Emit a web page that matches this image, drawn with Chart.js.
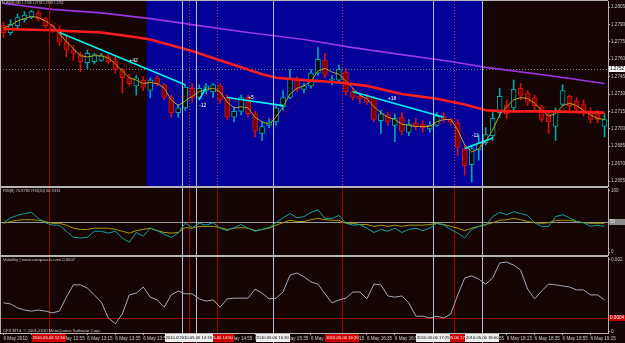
<!DOCTYPE html>
<html>
<head>
<meta charset="utf-8">
<script src="https://cdn.jsdelivr.net/npm/chart.js@4.4.1/dist/chart.umd.min.js"></script>
<style>
html,body{margin:0;padding:0;background:#150505;width:625px;height:343px;overflow:hidden;position:relative}
canvas{position:absolute;left:0;display:block}
.t{position:absolute;left:0;top:0;font-family:'Liberation Sans',Arial,sans-serif;font-size:10px;line-height:10px;color:#c8c8c8;white-space:nowrap;transform-origin:0 0}
</style>
</head>
<body>
<canvas id="cMain" width="625" height="187" style="top:0px"></canvas>
<canvas id="cRsi" width="625" height="69" style="top:187px"></canvas>
<canvas id="cVol" width="625" height="87" style="top:256px"></canvas>
<div class="t" style="transform:translate(2px,1px) scale(0.32)">EURUSD,M5 1.2748 1.2758 1.2748 1.2752</div>
<div class="t" style="transform:translate(3px,189px) scale(0.4)">RSI(8) 70.8782 RSI(20) 60.5331</div>
<div class="t" style="transform:translate(3px,258px) scale(0.42)">Volatility | www.compassfx.com 0.0007</div>
<div class="t" style="transform:translate(3px,329px) scale(0.42)">CFX MT4, © 2001-2010 MetaQuotes Software Corp.</div>
<script>
// ---------- DATA ----------
const times = ['12:15','12:20','12:25','12:30','12:35','12:40','12:45','12:50','12:55',
 '13:00','13:05','13:10','13:15','13:20','13:25','13:30','13:35','13:40','13:45','13:50','13:55',
 '14:00','14:05','14:10','14:15','14:20','14:25','14:30','14:35','14:40','14:45','14:50','14:55',
 '15:00','15:05','15:10','15:15','15:20','15:25','15:30','15:35','15:40','15:45','15:50','15:55',
 '16:00','16:05','16:10','16:15','16:20','16:25','16:30','16:35','16:40','16:45','16:50','16:55',
 '17:00','17:05','17:10','17:15','17:20','17:25','17:30','17:35','17:40','17:45','17:50','17:55',
 '18:00','18:05','18:10','18:15','18:20','18:25','18:30','18:35','18:40','18:45','18:50','18:55',
 '19:00','19:05','19:10','19:15','19:20','19:25'];

const openP = [1.2789,1.2783,1.2789,1.2794,1.2796,1.2800,1.2795,1.2789,1.2785,1.2775,
 1.2768,1.2764,1.2757,1.2758,1.2759,1.2762,1.2758,1.2751,1.2744,1.2737,
 1.2742,1.2733,1.2744,1.2738,1.2727,1.2714,1.2718,1.2735,1.2727,1.2733,
 1.2732,1.2737,1.2727,1.2710,1.2715,1.2727,1.2713,1.2696,1.2703,1.2706,
 1.2719,1.2727,1.2743,1.2734,1.2737,1.2748,1.2759,1.2742,1.2742,1.2749,
 1.2732,1.2728,1.2727,1.2726,1.2707,1.2712,1.2703,1.2710,1.2697,1.2705,
 1.2704,1.2700,1.2703,1.2711,1.2708,1.2705,1.2683,1.2669,1.2682,1.2688,
 1.2694,1.2714,1.2720,1.2718,1.2735,1.2731,1.2727,1.2719,1.2713,1.2702,
 1.2721,1.2728,1.2724,1.2721,1.2714,1.2713,1.2702];
const highP = [1.2792,1.2794,1.2799,1.2801,1.2802,1.2802,1.2796,1.2790,1.2788,1.2780,
 1.2772,1.2766,1.2768,1.2765,1.2765,1.2764,1.2762,1.2752,1.2747,1.2746,
 1.2745,1.2744,1.2746,1.2739,1.2729,1.2721,1.2738,1.2739,1.2738,1.2739,
 1.2739,1.2739,1.2729,1.2719,1.2729,1.2729,1.2715,1.2706,1.2709,1.2720,
 1.2733,1.2751,1.2745,1.2739,1.2751,1.2770,1.2765,1.2746,1.2755,1.2752,
 1.2735,1.2731,1.2730,1.2728,1.2716,1.2714,1.2713,1.2714,1.2708,1.2709,
 1.2707,1.2706,1.2714,1.2714,1.2709,1.2708,1.2686,1.2686,1.2695,1.2701,
 1.2714,1.2735,1.2725,1.2742,1.2739,1.2733,1.2729,1.2720,1.2716,1.2718,
 1.2738,1.2729,1.2727,1.2725,1.2718,1.2716,1.2713];
const lowP = [1.2779,1.2781,1.2787,1.2792,1.2795,1.2793,1.2787,1.2783,1.2772,1.2762,
 1.2759,1.2749,1.2752,1.2756,1.2758,1.2756,1.2748,1.2731,1.2737,1.2729,
 1.2733,1.2727,1.2737,1.2725,1.2710,1.2710,1.2716,1.2723,1.2725,1.2730,
 1.2727,1.2722,1.2708,1.2706,1.2712,1.2710,1.2693,1.2690,1.2701,1.2703,
 1.2716,1.2726,1.2732,1.2731,1.2735,1.2746,1.2744,1.2738,1.2740,1.2729,
 1.2725,1.2722,1.2721,1.2706,1.2696,1.2703,1.2689,1.2695,1.2694,1.2699,
 1.2697,1.2697,1.2702,1.2706,1.2703,1.2677,1.2660,1.2654,1.2673,1.2686,
 1.2690,1.2710,1.2709,1.2716,1.2725,1.2720,1.2716,1.2706,1.2696,1.2690,
 1.2720,1.2716,1.2714,1.2711,1.2705,1.2705,1.2693];
const closeP = [1.2783,1.2790,1.2796,1.2798,1.2801,1.2795,1.2789,1.2785,1.2775,1.2768,
 1.2765,1.2758,1.2765,1.2764,1.2763,1.2758,1.2751,1.2744,1.2739,1.2744,
 1.2736,1.2742,1.2739,1.2727,1.2714,1.2718,1.2736,1.2727,1.2735,1.2737,
 1.2738,1.2725,1.2710,1.2715,1.2727,1.2713,1.2698,1.2702,1.2706,1.2718,
 1.2727,1.2744,1.2734,1.2737,1.2748,1.2760,1.2747,1.2743,1.2751,1.2732,
 1.2727,1.2726,1.2723,1.2708,1.2713,1.2706,1.2709,1.2698,1.2704,1.2702,
 1.2701,1.2703,1.2711,1.2708,1.2706,1.2684,1.2668,1.2683,1.2688,1.2695,
 1.2709,1.2728,1.2713,1.2734,1.2729,1.2723,1.2720,1.2708,1.2706,1.2715,
 1.2733,1.2720,1.2717,1.2714,1.2708,1.2708,1.2708];

const maFast = [1.2787,1.2789,1.2793,1.2795,1.2797,1.2796,1.2793,1.2789,1.2782,1.2775,
 1.2769,1.2763,1.2762,1.2763,1.2763,1.2761,1.2756,1.2750,1.2744,1.2742,
 1.2739,1.2740,1.2739,1.2735,1.2725,1.2720,1.2724,1.2728,1.2732,1.2734,
 1.2735,1.2732,1.2723,1.2718,1.2719,1.2718,1.2710,1.2706,1.2704,1.2710,
 1.2719,1.2730,1.2735,1.2737,1.2741,1.2750,1.2752,1.2749,1.2747,1.2741,
 1.2735,1.2729,1.2726,1.2719,1.2714,1.2710,1.2708,1.2704,1.2703,1.2702,
 1.2702,1.2702,1.2706,1.2708,1.2708,1.2699,1.2686,1.2680,1.2683,1.2689,
 1.2699,1.2712,1.2719,1.2725,1.2727,1.2726,1.2722,1.2716,1.2711,1.2713,
 1.2720,1.2722,1.2720,1.2716,1.2712,1.2709,1.2708];
const maMid = [1.2785,1.2786,1.2788,1.2790,1.2793,1.2794,1.2794,1.2792,1.2789,1.2784,
 1.2779,1.2774,1.2770,1.2766,1.2764,1.2762,1.2759,1.2756,1.2752,1.2748,
 1.2744,1.2741,1.2739,1.2737,1.2733,1.2728,1.2728,1.2727,1.2728,1.2729,
 1.2732,1.2731,1.2727,1.2725,1.2723,1.2721,1.2715,1.2711,1.2708,1.2708,
 1.2712,1.2718,1.2724,1.2729,1.2735,1.2742,1.2746,1.2746,1.2748,1.2745,
 1.2740,1.2735,1.2731,1.2725,1.2720,1.2715,1.2712,1.2708,1.2706,1.2704,
 1.2703,1.2703,1.2704,1.2705,1.2706,1.2702,1.2695,1.2689,1.2686,1.2686,
 1.2691,1.2701,1.2708,1.2714,1.2720,1.2722,1.2723,1.2720,1.2716,1.2714,
 1.2717,1.2719,1.2719,1.2718,1.2715,1.2713,1.2711];

const maSlowT = ['12:15','12:50','13:25','13:50','14:00','14:15','14:30','14:40','15:00','15:20','15:30','15:50','16:15','16:35','17:00','17:25','17:45','18:00','18:15','18:45','19:25'];
const maSlowV = [1.2786,1.2785,1.2783,1.2779,1.2777,1.2772,1.2767,1.2763,1.2755,1.2747,1.2744,1.2742,1.2740,1.2737,1.2730,1.2726,1.2721,1.2716,1.2715,1.2715,1.2714];
const maLongT = ['12:15','12:50','13:25','14:00','14:35','15:10','15:50','16:25','17:00','17:35','18:00','18:45','19:25'];
const maLongV = [1.2808,1.2803,1.2800,1.2795,1.2789,1.2783,1.2777,1.2770,1.2764,1.2758,1.2753,1.2746,1.2739];

const trendT0 = ['12:55','14:35','14:55','16:25','17:45'];
const trendP0 = [1.2783,1.2725,1.2727,1.2732,1.2683];
const trendT1 = ['14:25','14:40','15:35','17:30','18:05'];
const trendP1 = [1.2738,1.2736,1.2720,1.2710,1.2692];
const trendText = ['+42','-12','+5','+18','-11'];
const trendTextT = ['13:45','14:35','15:10','16:50','17:50'];
const trendTextP = [1.2759,1.2720,1.2727,1.2726,1.2694];

const rsi8 = [48,56,60,63,65,55,48,44,44,34, 24,23,24,34,34,31,34,23,16,32,
 26,39,35,29,24,31,47,40,47,44, 48,39,35,40,45,39,34,37,40,48,
 56,63,56,58,65,69,55,55,60,47, 44,45,39,32,37,34,39,32,37,39,
 35,39,47,44,37,31,23,37,42,44, 58,65,61,66,63,60,48,42,42,58,
 61,56,50,48,42,44,42];
const rsi20 = [47,50,52,53,53,52,50,47,47,44, 39,37,37,39,39,39,37,34,31,35,
 37,39,35,32,31,32,40,39,42,42, 42,40,37,39,40,39,35,37,39,44,
 48,52,50,50,53,55,53,52,52,47, 47,45,45,42,44,42,44,42,44,44,
 44,45,47,45,42,39,35,39,42,45, 48,52,53,55,53,50,48,47,48,52,
 52,52,50,48,47,47,47];
const volat = [0.00081,0.00078,0.00067,0.00061,0.00058,0.00061,0.00058,0.00053,0.00058,0.00097,
 0.00131,0.00131,0.00122,0.00103,0.00083,0.00039,0.00023,0.00050,0.00103,0.00108,
 0.00125,0.00097,0.00089,0.00069,0.00103,0.00114,0.00106,0.00106,0.00092,0.00086,
 0.00089,0.00069,0.00092,0.00094,0.00094,0.00094,0.00119,0.00108,0.00092,0.00094,
 0.00111,0.00158,0.00164,0.00153,0.00139,0.00133,0.00106,0.00081,0.00089,0.00094,
 0.00111,0.00111,0.00092,0.00133,0.00131,0.00100,0.00097,0.00100,0.00081,0.00044,
 0.00044,0.00039,0.00044,0.00039,0.00050,0.00103,0.00150,0.00156,0.00147,0.00133,
 0.00150,0.00192,0.00194,0.00186,0.00172,0.00119,0.00092,0.00114,0.00133,0.00131,
 0.00128,0.00125,0.00117,0.00117,0.00103,0.00103,0.00089];

const priceTicks = [1.2655,1.2670,1.2685,1.2700,1.2715,1.2730,1.2745,1.2760,1.2775,1.2790,1.2805];
const lastPrice = 1.2752;
const rsiTicks = [0,100];
const rsiLevel = 50;
const volTicks = [0,0.002];
const volLevel = 0.0004;
const timeTickT = ['12:15','12:35','12:55','13:15','13:35','13:55','14:15','14:35','14:55','15:15','15:35',
 '15:55','16:15','16:35','16:55','17:15','17:35','17:55','18:15','18:35','18:55','19:15'];
const timeTickText = ['6 May 2010','6 May 12:35','6 May 12:55','6 May 13:15','6 May 13:35','6 May 13:55',
 '6 May 14:15','6 May 14:35','6 May 14:55','6 May 15:15','6 May 15:35','6 May 15:55','6 May 16:15',
 '6 May 16:35','6 May 16:55','6 May 17:15','6 May 17:35','6 May 17:55','6 May 18:15','6 May 18:35',
 '6 May 18:55','6 May 19:15'];
const sessionRange = ['14:00','18:00'];
const vRedSolid = ['12:50'];
const vRedDot = ['14:30','14:50','16:20','17:40'];
const vWhite = ['14:25','14:35','15:30','17:25','18:00'];

// ---------- STYLE ----------
const C = {bg:'#150505', blue:'#020299', frame:'#b4b4b4', txt:'#c8c8c8',
 bullLine:'#00a8a8', bullFill:'#080808', bearLine:'#d41010', bearFill:'#780000',
 purple:'#9b35e6', red:'#ff1c1c', yellow:'#b4a424', dotted:'#c80000', cyan:'#00f4f4',
 white:'#b8c0d8', redV:'#a00000', redDot:'#ff2a2a',
 rsi8:'#14a0a0', rsi20:'#a49c00', vol:'#a4a8bc', lvl:'#9a9a9a', volLvl:'#9a0000'};
const FONT = "'Liberation Sans', Arial, sans-serif";
const tickFont = {family: FONT, size: 4.6};

const idx = t => times.indexOf(t);
const xAt = (chart, t, off) => chart.scales.x.getPixelForValue(idx(t) + (off || 0));

function drawV(chart, y0, y1, main) {
  const ctx = chart.ctx;
  ctx.save(); ctx.lineWidth = 1;
  const L = (t, color, dash) => {
    const x = Math.round(xAt(chart, t, -0.5)) + 0.5;
    ctx.strokeStyle = color; ctx.setLineDash(dash);
    ctx.beginPath(); ctx.moveTo(x, y0); ctx.lineTo(x, y1); ctx.stroke();
  };
  vRedSolid.forEach(t => L(t, C.redV, []));
  vRedDot.forEach(t => L(t, main ? C.redDot : C.redV, main ? [1, 2] : []));
  vWhite.forEach(t => L(t, C.white, []));
  ctx.restore();
}
function fillBg(chart) {
  const {ctx, chartArea: a} = chart;
  ctx.save(); ctx.fillStyle = C.bg;
  ctx.fillRect(a.left, a.top, a.right - a.left, a.bottom - a.top);
  ctx.restore();
}
function hLevel(chart, scaleId, v, color, dash) {
  const {ctx, chartArea: a} = chart;
  const y = Math.round(chart.scales[scaleId].getPixelForValue(v)) + 0.5;
  ctx.save(); ctx.strokeStyle = color; ctx.lineWidth = 1; ctx.setLineDash(dash);
  ctx.beginPath(); ctx.moveTo(a.left, y); ctx.lineTo(a.right, y); ctx.stroke(); ctx.restore();
}
function frame(chart, top) {
  const {ctx, chartArea: a} = chart;
  ctx.save(); ctx.strokeStyle = C.frame; ctx.lineWidth = 1;
  ctx.beginPath();
  ctx.moveTo(0.5, a.top); ctx.lineTo(0.5, a.bottom);
  ctx.moveTo(0, a.bottom + 0.5); ctx.lineTo(a.right, a.bottom + 0.5);
  ctx.moveTo(0, a.top - 0.5); ctx.lineTo(a.right, a.top - 0.5);
  ctx.stroke(); ctx.restore();
}
function axisBox(chart, scaleId, v, text, bg, fg) {
  const {ctx, chartArea: a} = chart;
  const y = chart.scales[scaleId].getPixelForValue(v);
  ctx.save(); ctx.fillStyle = bg; ctx.fillRect(a.right + 1, Math.round(y - 3), 16, 6);
  ctx.fillStyle = fg; ctx.font = '4.6px ' + FONT; ctx.textAlign = 'left'; ctx.textBaseline = 'middle';
  ctx.fillText(text, a.right + 2, y + 0.3); ctx.restore();
}
const yAxisBase = (ticksArr, fmt) => ({
  position: 'right',
  afterFit: s => { s.width = 17; s.paddingTop = 0; s.paddingBottom = 0; },
  afterBuildTicks: s => { s.ticks = ticksArr.map(v => ({value: v})); },
  ticks: {color: C.txt, font: tickFont, padding: 1, callback: fmt},
  grid: {drawOnChartArea: false, drawTicks: true, tickLength: 2, color: C.frame},
  border: {color: C.frame}
});
const common = {responsive: false, animation: false, events: [],
  plugins: {legend: {display: false}, tooltip: {enabled: false}}};

// ---------- MAIN PANE ----------
const bull = times.map((t, i) => closeP[i] >= openP[i]);
const bodies = times.map((t, i) => {
  let lo = Math.min(openP[i], closeP[i]), hi = Math.max(openP[i], closeP[i]);
  if (hi - lo < 0.00004) { lo -= 0.00002; hi += 0.00002; }
  return [lo, hi];
});
const lineDs = (data, color, width, dash) => ({type: 'line', data, borderColor: color,
  borderWidth: width, borderDash: dash || [], pointRadius: 0, tension: 0, fill: false});

const trendDs = trendT0.map((t, k) => lineDs([{x: t, y: trendP0[k]}, {x: trendT1[k], y: trendP1[k]}], C.cyan, 1.6));

new Chart(document.getElementById('cMain'), {
  type: 'bar',
  data: {labels: times, datasets: [
    ...trendDs,
    lineDs(maSlowT.map((t, k) => ({x: t, y: maSlowV[k]})), C.red, 2.6),
    lineDs(maLongT.map((t, k) => ({x: t, y: maLongV[k]})), C.purple, 1.6),
    lineDs(maFast, C.yellow, 1),
    lineDs(maMid, C.dotted, 1, [1, 2]),
    {type: 'bar', data: bodies, grouped: false, barThickness: 5, borderWidth: 1, borderSkipped: false,
     backgroundColor: bull.map(b => b ? C.bullFill : C.bearFill),
     borderColor: bull.map(b => b ? C.bullLine : C.bearLine)},
    {type: 'bar', data: times.map((t, i) => [lowP[i], highP[i]]), grouped: false, barThickness: 1,
     backgroundColor: bull.map(b => b ? C.bullLine : C.bearLine)}
  ]},
  options: {...common,
    layout: {padding: {top: 1, bottom: 1, left: 0, right: 0}},
    scales: {
      x: {type: 'category', offset: true, display: false},
      y: {...yAxisBase(priceTicks, v => v.toFixed(4)), min: 1.26507, max: 1.28102}
    }
  },
  plugins: [{
    id: 'mainDeco',
    beforeDraw(chart) {
      fillBg(chart);
      const {ctx, chartArea: a} = chart;
      const x0 = xAt(chart, sessionRange[0], -0.5), x1 = xAt(chart, sessionRange[1], -0.5);
      ctx.save(); ctx.fillStyle = C.blue; ctx.fillRect(x0, a.top, x1 - x0, a.bottom - a.top); ctx.restore();
    },
    beforeDatasetsDraw(chart) { hLevel(chart, 'y', lastPrice, '#7c7c7c', [1, 2]); },
    afterDatasetsDraw(chart) {
      drawV(chart, chart.chartArea.top, chart.chartArea.bottom, true);
      const ctx = chart.ctx;
      ctx.save(); ctx.fillStyle = '#ffffff'; ctx.font = '5px ' + FONT;
      ctx.textAlign = 'left'; ctx.textBaseline = 'middle';
      trendText.forEach((s, k) => ctx.fillText(s, xAt(chart, trendTextT[k]), chart.scales.y.getPixelForValue(trendTextP[k])));
      ctx.restore();
    },
    afterDraw(chart) {
      frame(chart);
      axisBox(chart, 'y', lastPrice, lastPrice.toFixed(4), '#f4f4f4', '#000000');
    }
  }]
});

// ---------- RSI PANE ----------
new Chart(document.getElementById('cRsi'), {
  type: 'line',
  data: {labels: times, datasets: [
    lineDs(rsi8, C.rsi8, 1),
    lineDs(rsi20, C.rsi20, 1)
  ]},
  options: {...common,
    layout: {padding: {top: 1, bottom: 1}},
    scales: {
      x: {type: 'category', offset: true, display: false},
      y: {...yAxisBase(rsiTicks, v => String(v)), min: -4.9, max: 104.9}
    }
  },
  plugins: [{
    id: 'rsiDeco',
    beforeDraw(chart) { fillBg(chart); },
    beforeDatasetsDraw(chart) {
      hLevel(chart, 'y', rsiLevel, C.lvl, []);
      drawV(chart, chart.chartArea.top, chart.chartArea.bottom, false);
    },
    afterDraw(chart) {
      frame(chart);
      axisBox(chart, 'y', rsiLevel, String(rsiLevel), '#8a8a8a', '#e8e8e8');
    }
  }]
});

// ---------- VOLATILITY PANE ----------
new Chart(document.getElementById('cVol'), {
  type: 'line',
  data: {labels: times, datasets: [lineDs(volat, C.vol, 1)]},
  options: {...common,
    layout: {padding: {top: 1, bottom: 0}},
    scales: {
      x: {type: 'category', offset: true, position: 'bottom',
        afterFit: s => { s.height = 10; s.paddingLeft = 0; s.paddingRight = 0; },
        afterBuildTicks: s => { s.ticks = timeTickT.map(t => ({value: idx(t)})); },
        ticks: {color: C.txt, font: tickFont, padding: 1, autoSkip: false, maxRotation: 0, minRotation: 0,
          align: 'start', callback: v => timeTickText[timeTickT.indexOf(times[v])]},
        grid: {drawOnChartArea: false, drawTicks: true, tickLength: 2, color: C.frame},
        border: {color: C.frame}},
      y: {...yAxisBase(volTicks, v => (v === 0 ? '0' : v.toFixed(3))), min: -0.0000278, max: 0.0020833}
    }
  },
  plugins: [{
    id: 'volDeco',
    beforeDraw(chart) { fillBg(chart); },
    beforeDatasetsDraw(chart) {
      hLevel(chart, 'y', volLevel, C.volLvl, []);
      drawV(chart, chart.chartArea.top, chart.height, false);
    },
    afterDraw(chart) {
      frame(chart);
      axisBox(chart, 'y', volLevel, volLevel.toFixed(4), '#c00000', '#ffffff');
      const ctx = chart.ctx, yb = chart.chartArea.bottom + 1;
      const box = (t, bg, fg) => {
        const x = xAt(chart, t, -0.5);
        ctx.fillStyle = bg; ctx.fillRect(Math.round(x - 17), yb, 34, 8);
        ctx.fillStyle = fg; ctx.font = '4.2px ' + FONT; ctx.textAlign = 'center'; ctx.textBaseline = 'middle';
        ctx.fillText('2010.05.06 ' + t, x, yb + 4.3);
      };
      ctx.save();
      [...vRedSolid, ...vRedDot].forEach(t => box(t, '#d00000', '#ffffff'));
      vWhite.forEach(t => box(t, '#f0f0f0', '#000000'));
      ctx.restore();
    }
  }]
});
</script>
</body>
</html>
